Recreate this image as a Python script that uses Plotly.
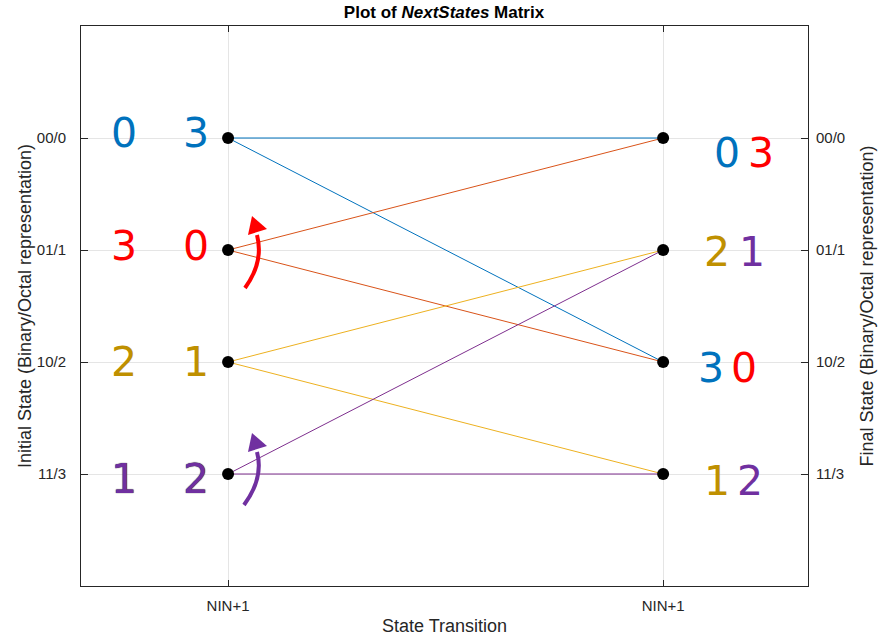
import plotly.graph_objects as go

# ---------------- data ----------------
states = [0, 1, 2, 3]
state_labels = ["00/0", "01/1", "10/2", "11/3"]
next_state_a = [0, 0, 1, 1]
next_state_b = [2, 2, 3, 3]
line_colors = ["#0072BD", "#D95319", "#EDB120", "#7E2F8E"]
text_colors = ["#0072BD", "#FF0000", "#BF9000", "#7030A0"]

left_col1 = ["0", "3", "2", "1"]
left_col2 = ["3", "0", "1", "2"]
right_first = ["0", "2", "3", "1"]
right_first_state = [0, 2, 0, 2]   # colour index
right_second = ["3", "1", "0", "2"]
right_second_state = [1, 3, 1, 3]

x_tick_labels = ["NIN+1", "NIN+1"]

# ---------------- geometry helpers (annotation placement) ----------------
XR = [0.662, 2.333]
YR = [4, -1]
L, R, T, B = 81, 80, 26, 50
W, H = 888, 636
pw, ph = W - L - R, H - T - B


def X(px):
    return XR[0] + (px - L) / pw * (XR[1] - XR[0])


def Y(py):
    return YR[1] + (py - T) / ph * (YR[0] - YR[1])


fig = go.Figure()

# transition lines
for s in states:
    for nxt in (next_state_a[s], next_state_b[s]):
        fig.add_trace(go.Scatter(x=[1, 2], y=[s, nxt], mode="lines",
                                 line=dict(color=line_colors[s], width=1),
                                 hoverinfo="skip", showlegend=False))

# nodes
fig.add_trace(go.Scatter(x=[1] * len(states), y=states, mode="markers",
                         marker=dict(color="black", size=12), showlegend=False))
fig.add_trace(go.Scatter(x=[2] * len(states), y=states, mode="markers",
                         marker=dict(color="black", size=12), showlegend=False,
                         yaxis="y2"))

annotations = []
digit_font = "DejaVu Sans"
dsize = 41
left_yshift = [5, 4, 0, -5]
for s in states:
    shadow = "0 0 1px #000" if s == 3 else "none"
    for txt, px in ((left_col1[s], 124), (left_col2[s], 196)):
        annotations.append(dict(x=X(px), y=s, xref="x", yref="y", text=txt,
                                showarrow=False, yshift=left_yshift[s],
                                font=dict(family=digit_font, size=dsize,
                                          color=text_colors[s], shadow=shadow)))

right_y = [153, 252, 368, 481]
right_x1 = [727, 717, 711, 717]
right_x2 = [761, 752, 744, 750]
for s in states:
    annotations.append(dict(x=X(right_x1[s]), y=Y(right_y[s]), xref="x", yref="y",
                            text=right_first[s], showarrow=False,
                            font=dict(family=digit_font, size=dsize,
                                      color=text_colors[right_first_state[s]])))
    annotations.append(dict(x=X(right_x2[s]), y=Y(right_y[s]), xref="x", yref="y",
                            text=right_second[s], showarrow=False,
                            font=dict(family=digit_font, size=dsize,
                                      color=text_colors[right_second_state[s]])))

# curved arrows
shapes = []
arrows = [
    ((245, 288), (264, 262), (257, 235), [(252, 216), (248, 235), (267, 229)], "#FF0000"),
    ((244, 505), (264, 478), (257, 452), [(252, 433), (248, 452), (267, 446)], "#7030A0"),
]
for p0, c, p1, tri, col in arrows:
    shapes.append(dict(type="path", xref="x", yref="y",
                       path=f"M {X(p0[0])},{Y(p0[1])} Q {X(c[0])},{Y(c[1])} {X(p1[0])},{Y(p1[1])}",
                       line=dict(color=col, width=4)))
    shapes.append(dict(type="path", xref="x", yref="y",
                       path="M " + " L ".join(f"{X(a)},{Y(b)}" for a, b in tri) + " Z",
                       fillcolor=col, line=dict(color=col, width=0)))

FONT = "Liberation Sans, Arial, sans-serif"
axis_font = dict(family=FONT, size=15, color="#262626")
title_font = dict(family=FONT, size=18, color="#262626")

fig.update_layout(
    width=W, height=H,
    margin=dict(l=L, r=R, t=T, b=B, pad=0),
    paper_bgcolor="white", plot_bgcolor="white",
    showlegend=False,
    title=dict(text="<b>Plot of <i>NextStates</i> Matrix</b>", x=0.5, xanchor="center",
               y=1 - 12 / H, yanchor="middle",
               font=dict(family=FONT, size=17, color="black")),
    xaxis=dict(range=XR, tickvals=[1, 2], ticktext=x_tick_labels, ticks="inside",
               ticklen=6, tickcolor="#262626", showgrid=True, gridcolor="#E5E5E5",
               showline=True, linecolor="#262626", linewidth=1, mirror="ticks",
               zeroline=False, tickfont=axis_font, automargin=False,
               ticklabelstandoff=6,
               title=dict(text="State Transition", font=title_font, standoff=7)),
    yaxis=dict(range=YR, tickvals=states, ticktext=state_labels, ticks="inside",
               ticklen=7, tickcolor="#262626", showgrid=True, gridcolor="#E5E5E5",
               showline=True, linecolor="#262626", linewidth=1, zeroline=False,
               tickfont=axis_font, ticklabelstandoff=11, automargin=False,
               title=dict(text="Initial State (Binary/Octal representation)",
                          font=title_font, standoff=0)),
    yaxis2=dict(range=YR, tickvals=states, ticktext=state_labels, ticks="inside",
                ticklen=7, tickcolor="#262626", showgrid=False, overlaying="y",
                side="right", showline=True, linecolor="#262626", linewidth=1,
                zeroline=False, tickfont=axis_font, ticklabelstandoff=4,
                automargin=False,
                title=dict(text="Final State (Binary/Octal representation)",
                           font=title_font, standoff=16)),
    annotations=annotations,
    shapes=shapes,
)

fig.write_html("out.html", config={"displayModeBar": False},
               post_script="document.body.style.margin='0px';document.body.style.padding='0px';")
